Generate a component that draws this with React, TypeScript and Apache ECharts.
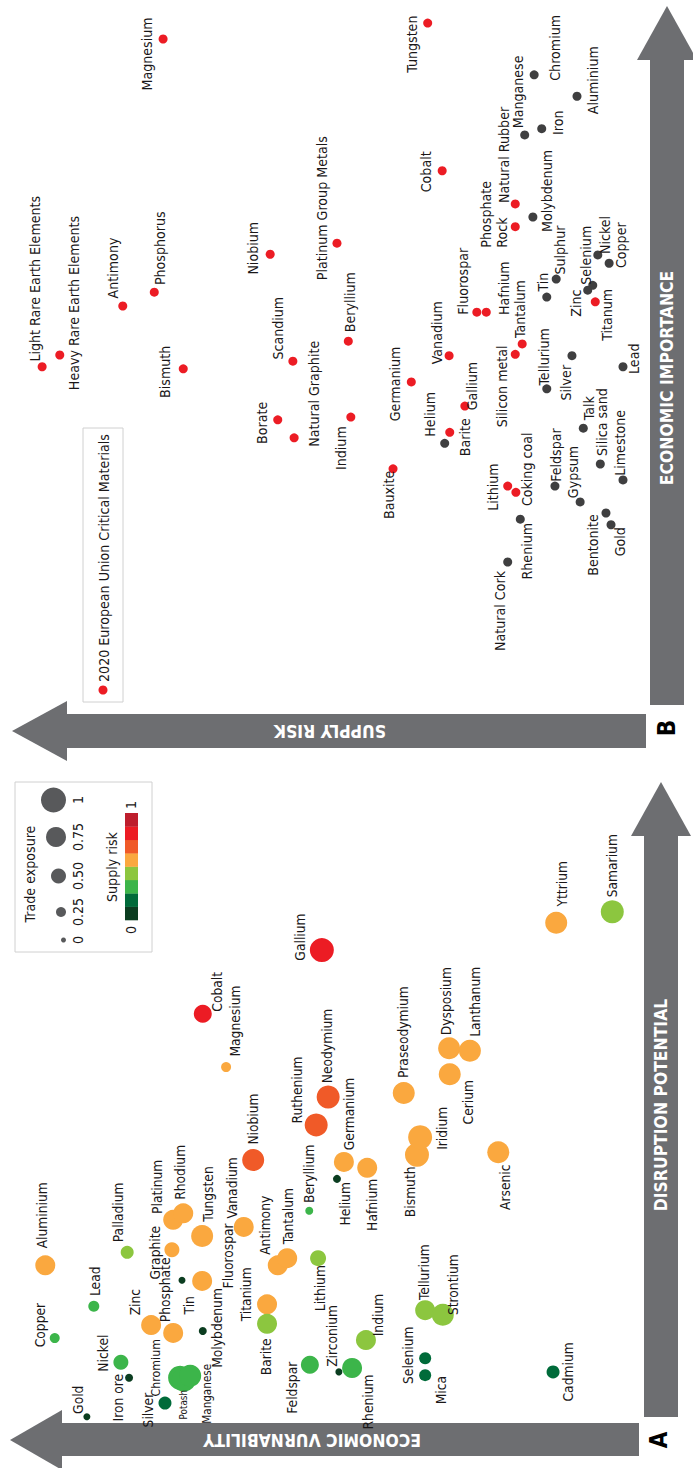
import React, { useEffect, useRef } from 'react';
import * as echarts from 'echarts';

// ---------- shared scales ----------
const RISK_COLORS = ['#0b3d20', '#006b3a', '#3cb54a', '#8cc63f', '#faa83f', '#f05a28', '#ec1c24', '#be1e2d'];
const RISK_LEGEND_LABELS = ['0', '1'];
const TRADE_LEGEND_VALUES = [0, 0.25, 0.5, 0.75, 1];
const TRADE_LEGEND_LABELS = ['0', '0.25', '0.50', '0.75', '1'];

// ---------- Panel A ----------
const A_NAMES = ['Gold', 'Iron ore', 'Silver', 'Chromium', 'Potash', 'Manganese', 'Copper', 'Nickel', 'Lead', 'Zinc', 'Phosphate', 'Molybdenum', 'Tin', 'Fluorospar', 'Graphite', 'Palladium', 'Aluminium', 'Platinum', 'Rhodium', 'Tungsten', 'Vanadium', 'Antimony', 'Tantalum', 'Titanium', 'Barite', 'Feldspar', 'Niobium', 'Beryllium', 'Lithium', 'Zirconium', 'Indium', 'Rhenium', 'Ruthenium', 'Neodymium', 'Magnesium', 'Cobalt', 'Gallium', 'Germanium', 'Hafnium', 'Helium', 'Bismuth', 'Iridium', 'Praseodymium', 'Dysposium', 'Lanthanum', 'Cerium', 'Arsenic', 'Tellurium', 'Strontium', 'Selenium', 'Mica', 'Cadmium', 'Yttrium', 'Samarium'];
const A_ECONOMIC_VULNERABILITY = [87.8, 81.1, 75.4, 73.0, 72.4, 71.4, 92.9, 82.4, 86.7, 77.6, 74.1, 69.4, 72.7, 69.5, 74.3, 81.4, 94.4, 74.1, 72.5, 69.5, 62.9, 57.5, 56.0, 59.2, 59.2, 52.4, 61.4, 52.5, 51.1, 47.8, 43.5, 45.7, 51.4, 49.5, 65.7, 69.4, 50.5, 47.0, 43.3, 48.1, 35.4, 34.9, 37.5, 30.3, 27.0, 30.2, 22.5, 34.1, 31.3, 34.1, 34.1, 13.8, 13.3, 4.4];
const A_DISRUPTION_POTENTIAL = [0.5, 6.5, 2.6, 6.5, 6.2, 6.8, 12.6, 8.9, 17.5, 14.6, 13.4, 13.7, 21.5, 21.4, 26.2, 25.8, 23.8, 30.8, 31.8, 28.3, 29.7, 23.8, 24.9, 17.8, 14.8, 8.5, 40.0, 32.2, 24.9, 7.4, 12.3, 8.0, 45.4, 49.7, 54.3, 62.5, 72.3, 39.7, 38.8, 37.1, 40.8, 43.5, 50.3, 57.2, 56.8, 53.2, 41.2, 16.9, 16.2, 9.5, 6.9, 7.4, 76.5, 78.2];
const A_TRADE_EXPOSURE = [0.1, 0.15, 0.4, 0.95, 0.95, 0.85, 0.25, 0.5, 0.3, 0.75, 0.75, 0.15, 0.1, 0.75, 0.5, 0.4, 0.75, 0.75, 0.75, 0.85, 0.75, 0.75, 0.75, 0.75, 0.75, 0.65, 0.85, 0.15, 0.55, 0.1, 0.75, 0.75, 0.9, 0.9, 0.25, 0.65, 0.95, 0.75, 0.75, 0.15, 0.95, 0.95, 0.85, 0.85, 0.85, 0.85, 0.85, 0.75, 0.85, 0.35, 0.35, 0.4, 0.85, 0.9];
const A_SUPPLY_RISK = [0.06, 0.06, 0.19, 0.31, 0.31, 0.31, 0.31, 0.31, 0.31, 0.56, 0.56, 0.06, 0.06, 0.56, 0.56, 0.44, 0.56, 0.56, 0.56, 0.56, 0.56, 0.56, 0.56, 0.56, 0.44, 0.31, 0.69, 0.31, 0.44, 0.06, 0.44, 0.31, 0.69, 0.69, 0.56, 0.81, 0.81, 0.56, 0.56, 0.06, 0.56, 0.56, 0.56, 0.56, 0.56, 0.56, 0.56, 0.44, 0.44, 0.19, 0.19, 0.19, 0.56, 0.44];

// ---------- Panel B ----------
const B_NAMES = ['Light Rare Earth Elements', 'Heavy Rare Earth Elements', 'Antimony', 'Phosphorus', 'Bismuth', 'Magnesium', 'Niobium', 'Platinum Group Metals', 'Scandium', 'Beryllium', 'Natural Graphite', 'Borate', 'Indium', 'Germanium', 'Bauxite', 'Vanadium', 'Gallium', 'Barite', 'Helium', 'Tungsten', 'Cobalt', 'Fluorospar', 'Hafnium', 'Tantalum', 'Silicon metal', 'Lithium', 'Coking coal', 'Natural Rubber', 'Phosphate\nRock', 'Titanum', 'Manganese', 'Chromium', 'Iron', 'Aluminium', 'Molybdenum', 'Sulphur', 'Tin', 'Selenium', 'Zinc', 'Nickel', 'Copper', 'Tellurium', 'Silver', 'Lead', 'Talk', 'Silica sand', 'Limestone', 'Feldspar', 'Gypsum', 'Bentonite', 'Gold', 'Rhenium', 'Natural Cork'];
const B_SUPPLY_RISK = [94.9, 92.1, 82.1, 77.1, 72.5, 75.7, 58.7, 48.1, 55.1, 46.3, 54.9, 57.5, 45.9, 36.3, 39.2, 30.3, 27.8, 30.2, 31.0, 33.7, 31.4, 25.9, 24.4, 18.7, 19.8, 21.0, 19.7, 19.8, 19.8, 7.1, 18.3, 16.8, 15.6, 10.0, 17.0, 13.3, 14.8, 7.5, 8.3, 6.7, 4.9, 14.8, 10.8, 2.7, 9.0, 6.3, 2.7, 13.5, 9.5, 5.4, 4.6, 19.0, 21.0];
const B_ECONOMIC_IMPORTANCE = [48.3, 50.0, 57.1, 59.1, 48.0, 95.8, 64.6, 66.2, 49.1, 52.0, 38.0, 40.6, 41.0, 46.1, 33.5, 49.9, 42.6, 38.8, 37.2, 98.1, 76.7, 56.2, 56.2, 51.6, 50.1, 31.0, 30.1, 71.9, 68.6, 57.7, 81.9, 90.6, 82.8, 87.5, 70.0, 61.0, 58.4, 60.1, 59.4, 64.5, 63.3, 45.1, 49.9, 48.3, 39.4, 34.2, 31.9, 31.0, 28.7, 27.1, 25.4, 26.2, 20.0];
const B_EU_CRITICAL = [1, 1, 1, 1, 1, 1, 1, 1, 1, 1, 1, 1, 1, 1, 1, 1, 1, 1, 0, 1, 1, 1, 1, 1, 1, 1, 1, 1, 1, 1, 0, 0, 0, 0, 0, 0, 0, 0, 0, 0, 0, 0, 0, 0, 0, 0, 0, 0, 0, 0, 0, 0, 0];
const B_LEGEND_TEXT = '2020 European Union Critical Materials';

// ---------- label placement (page pixels from the dot centre to the text centre; optional font scale) ----------
const A_LABEL_OFFSET: Record<string, number[]> = {
  Gold: [-9, -17], 'Iron ore': [-11, 20], Silver: [-17, 7], Chromium: [-24, -10, 0.9], Potash: [0, 25, 0.72], Manganese: [17, 18, 0.85],
  Copper: [-15, -13], Nickel: [-18, -9], Lead: [1, -25], Zinc: [-16, -23], Phosphate: [-8, -43], Molybdenum: [14, -3],
  Tin: [7, 25], Fluorospar: [26, -25], Graphite: [-17, 3], Palladium: [-9, -40], Aluminium: [-3, -50], Platinum: [-16, -33],
  Rhodium: [-3, -41], Tungsten: [6, -42], Vanadium: [-12, -39], Antimony: [-13, -40], Tantalum: [1, -42], Titanium: [-21, -10],
  Barite: [-1, 33], Feldspar: [-18, 23], Niobium: [0, -41], Beryllium: [0, -37], Lithium: [2, 30], Zirconium: [-7, -36],
  Indium: [12, -25], Rhenium: [16, 34], Ruthenium: [-19, -35], Neodymium: [-1, -51], Magnesium: [9, -46], Cobalt: [14, -22],
  Gallium: [-22, -13], Germanium: [5, -48], Hafnium: [5, 37], Helium: [8, 25], Bismuth: [-7, 37], Iridium: [22, -9],
  Praseodymium: [-1, -61], Dysposium: [-3, -47], Lanthanum: [5, -49], Cerium: [18, 28], Arsenic: [7, 35], Tellurium: [-1, -38],
  Strontium: [10, -30], Selenium: [-17, -3], Mica: [16, 15], Cadmium: [15, 0], Yttrium: [6, -39], Samarium: [0, -46],
};
const B_LABEL_OFFSET: Record<string, any[]> = {
  'Light Rare Earth Elements': [-7, -88], 'Heavy Rare Earth Elements': [14, -52], Antimony: [-10, -38], Phosphorus: [6, -44],
  Bismuth: [-18, 3], Magnesium: [-16, 15], Niobium: [-17, -6], 'Platinum Group Metals': [-15, -35], Scandium: [-15, -33],
  Beryllium: [2, -39], 'Natural Graphite': [20, -44], Borate: [-16, 3], Indium: [-10, 31], Germanium: [-16, 2], Bauxite: [-4, 26],
  Vanadium: [-12, -23], Gallium: [7, -20], Barite: [15, 5], Helium: [-15, -29], Tungsten: [-16, 21], Cobalt: [-16, 1],
  Fluorospar: [-14, -31], Hafnium: [18, -24], Tantalum: [-2, -35], 'Silicon metal': [-13, 32], Lithium: [-15, 1],
  'Coking coal': [11, -23], 'Natural Rubber': [-11, -49], 'Phosphate\nRock': [-21, 21, 'left'], Titanum: [12, 13],
  Manganese: [-7, -43], Chromium: [21, -27], Iron: [16, -6], Aluminium: [16, -16], Molybdenum: [14, -26], Sulphur: [4, -29],
  Tin: [-4, -15], Selenium: [-7, -30], Zinc: [-12, 13], Nickel: [7, -20], Copper: [12, -18], Tellurium: [-3, -32],
  Silver: [-6, 27], Lead: [11, -8], Talk: [6, -20], 'Silica sand': [2, -42], Limestone: [-3, -37], Feldspar: [1, -31],
  Gypsum: [-7, -30], Bentonite: [-13, 32], Gold: [9, 17], Rhenium: [7, 32], 'Natural Cork': [-8, 49],
};

const riskColor = (v: number) => RISK_COLORS[Math.max(0, Math.min(7, Math.floor(v * 8)))];
const tradeSize = (t: number) => 5 + 20 * t;

function detectFont(): string {
  const ctx = document.createElement('canvas').getContext('2d');
  if (!ctx) return 'Roboto';
  const s = 'Magnesium Rare Earth Wq';
  const w = (f: string) => { ctx.font = '40px ' + f; return ctx.measureText(s).width; };
  const m = w('monospace');
  const cands = ['Liberation Sans Narrow', 'DejaVu Sans Condensed', 'Roboto Condensed', 'Arial Narrow'];
  for (const c of cands) {
    const a = w(`"${c}", monospace`);
    const b = w(`"${c}", serif`);
    if (Math.abs(a - b) < 0.5 && Math.abs(a - m) > 0.5) return c;
  }
  return 'Roboto';
}

function fitSize(family: string, weight: string, text: string, target: number): number {
  const ctx = document.createElement('canvas').getContext('2d');
  if (!ctx) return 13;
  ctx.font = `${weight} 40px "${family}"`;
  const wd = ctx.measureText(text).width;
  return Math.round((40 * target / wd) * 10) / 10;
}

export default function App() {
  const ref = useRef<HTMLDivElement>(null);
  useEffect(() => {
    document.body.style.margin = '0';
    if (!ref.current) return;
    const chart = echarts.init(ref.current, null, { renderer: 'svg' });
    const FONT = detectFont();
    const fsA = fitSize(FONT, 'normal', 'PraseodymiumMagnesium', 163);
    const fsB = fitSize(FONT, 'normal', 'Light Rare Earth Elements', 166);
    const fsTitle = fitSize(FONT, 'bold', 'DISRUPTION POTENTIAL', 212);
    const TXT = '#1a1718';
    const GRAY = '#6d6e71';

    const aData = A_NAMES.map((name, i) => {
      const s = tradeSize(A_TRADE_EXPOSURE[i]);
      const off = A_LABEL_OFFSET[name] || [0, -20];
      return {
        name,
        value: [A_ECONOMIC_VULNERABILITY[i], A_DISRUPTION_POTENTIAL[i]],
        symbolSize: s,
        itemStyle: { color: riskColor(A_SUPPLY_RISK[i]) },
        label: { position: [s / 2 + off[0], s / 2 + off[1]], fontSize: Math.round(fsA * (off[2] || 1) * 10) / 10 },
      };
    });
    const sB = 9;
    const bData = B_NAMES.map((name, i) => {
      const off = B_LABEL_OFFSET[name] || [0, -20];
      return {
        name,
        value: [B_SUPPLY_RISK[i], B_ECONOMIC_IMPORTANCE[i]],
        symbolSize: sB,
        itemStyle: { color: B_EU_CRITICAL[i] ? '#ec1c24' : '#3f3f40' },
        label: { position: [sB / 2 + off[0], sB / 2 + off[1]], align: off[2] || 'center' },
      };
    });

    const rtext = (text: string, x: number, y: number, size: number, opts: any = {}) => ({
      type: 'text', x, y, rotation: opts.rotation ?? Math.PI / 2, z: 10,
      style: {
        text, fill: opts.fill || TXT, fontSize: size, fontFamily: FONT, fontWeight: opts.weight || 'normal',
        align: opts.align || 'center', verticalAlign: 'middle', textAlign: opts.align || 'center', textVerticalAlign: 'middle',
      },
    });

    const graphics: any[] = [];
    // Panel B arrows
    graphics.push({ type: 'rect', shape: { x: 650, y: 59, width: 34, height: 646 }, style: { fill: GRAY } });
    graphics.push({ type: 'polygon', shape: { points: [[637, 60], [667, 6], [697, 60]] }, style: { fill: GRAY } });
    graphics.push({ type: 'rect', shape: { x: 66, y: 714, width: 580, height: 34 }, style: { fill: GRAY } });
    graphics.push({ type: 'polygon', shape: { points: [[67, 701], [12, 731], [67, 761]] }, style: { fill: GRAY } });
    graphics.push(rtext('ECONOMIC IMPORTANCE', 667, 378, fsTitle, { fill: '#fff', weight: 'bold' }));
    graphics.push(rtext('SUPPLY RISK', 330, 731, fsTitle, { fill: '#fff', weight: 'bold', rotation: Math.PI }));
    graphics.push(rtext('B', 667, 728, 24, { weight: 'bold', fill: '#000' }));
    // Panel A arrows
    graphics.push({ type: 'rect', shape: { x: 644, y: 835, width: 34, height: 582 }, style: { fill: GRAY } });
    graphics.push({ type: 'polygon', shape: { points: [[631, 836], [661, 782], [691, 836]] }, style: { fill: GRAY } });
    graphics.push({ type: 'rect', shape: { x: 61, y: 1423, width: 578, height: 33 }, style: { fill: GRAY } });
    graphics.push({ type: 'polygon', shape: { points: [[62, 1410], [10, 1440], [62, 1470]] }, style: { fill: GRAY } });
    graphics.push(rtext('DISRUPTION POTENTIAL', 661, 1105, fsTitle, { fill: '#fff', weight: 'bold' }));
    graphics.push(rtext('ECONOMIC VURNABILITY', 312, 1440, fsTitle, { fill: '#fff', weight: 'bold', rotation: Math.PI }));
    graphics.push(rtext('A', 659, 1440, 24, { weight: 'bold', fill: '#000' }));

    // Panel B legend
    graphics.push({ type: 'rect', shape: { x: 83, y: 428, width: 40, height: 274 }, style: { fill: '#fff', stroke: '#d0d0d0', lineWidth: 1 } });
    graphics.push({ type: 'circle', shape: { cx: 103, cy: 690, r: 4.5 }, style: { fill: '#ec1c24' } });
    graphics.push(rtext(B_LEGEND_TEXT, 104, 682, fsB, { align: 'left' }));

    // Panel A legend
    graphics.push({ type: 'rect', shape: { x: 15, y: 782, width: 137, height: 170 }, style: { fill: '#fff', stroke: '#d0d0d0', lineWidth: 1 } });
    graphics.push(rtext('Trade exposure', 30, 874, fsB));
    const legendY = [940, 912, 876, 837, 800];
    TRADE_LEGEND_VALUES.forEach((t, i) => {
      const r = tradeSize(t) / 2;
      graphics.push({ type: 'circle', shape: { cx: 66 - r, cy: legendY[i], r }, style: { fill: '#58595b' } });
      graphics.push(rtext(TRADE_LEGEND_LABELS[i], 78, legendY[i], fsB));
    });
    graphics.push(rtext('Supply risk', 112, 867, fsB));
    const segH = 107 / RISK_COLORS.length;
    RISK_COLORS.forEach((c, i) => {
      graphics.push({ type: 'rect', shape: { x: 125, y: 920 - (i + 1) * segH, width: 13, height: segH + 0.3 }, style: { fill: c } });
    });
    graphics.push(rtext(RISK_LEGEND_LABELS[1], 131, 805, fsB));
    graphics.push(rtext(RISK_LEGEND_LABELS[0], 131, 930, fsB));

    const labelBase = {
      show: true, formatter: '{b}', rotate: 90, color: TXT, fontFamily: FONT,
      align: 'center', verticalAlign: 'middle',
    };

    chart.setOption({
      animation: false,
      backgroundColor: '#ffffff',
      grid: [
        { left: 10, right: 53, top: 770, bottom: 48 },
        { left: 10, right: 53, top: 10, bottom: 768 },
      ],
      xAxis: [
        { gridIndex: 0, type: 'value', min: 0, max: 100, inverse: true, show: false },
        { gridIndex: 1, type: 'value', min: 0, max: 100, inverse: true, show: false },
      ],
      yAxis: [
        { gridIndex: 0, type: 'value', min: 0, max: 100, show: false },
        { gridIndex: 1, type: 'value', min: 0, max: 100, show: false },
      ],
      series: [
        {
          type: 'scatter', xAxisIndex: 0, yAxisIndex: 0, data: aData, clip: false,
          itemStyle: { opacity: 1 },
          label: { ...labelBase, fontSize: fsA },
          emphasis: { disabled: true },
        },
        {
          type: 'scatter', xAxisIndex: 1, yAxisIndex: 1, data: bData, clip: false,
          itemStyle: { opacity: 1 },
          label: { ...labelBase, fontSize: fsB, lineHeight: Math.round(fsB * 1.15) },
          emphasis: { disabled: true },
        },
      ],
      graphic: graphics,
    });
    return () => chart.dispose();
  }, []);
  return <div ref={ref} style={{ width: 693, height: 1468 }} />;
}
